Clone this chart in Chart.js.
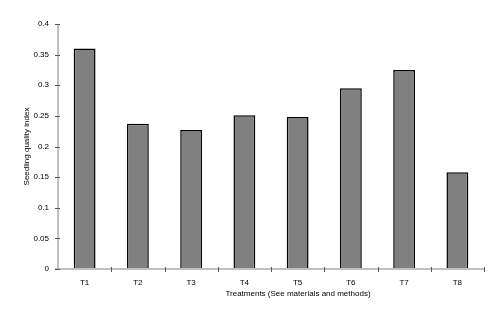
<!DOCTYPE html>
<html>
<head>
<meta charset="utf-8">
<script src="https://cdn.jsdelivr.net/npm/chart.js@4"></script>
<style>
  html, body { margin: 0; padding: 0; background: #fff; }
  canvas { display: block; }
</style>
</head>
<body>
<canvas id="chart" width="500" height="314"></canvas>
<script>
const treatments = ['T1', 'T2', 'T3', 'T4', 'T5', 'T6', 'T7', 'T8'];
const qualityIndex = [0.36, 0.237, 0.227, 0.251, 0.248, 0.295, 0.325, 0.158];
const yTicks = [0, 0.05, 0.1, 0.15, 0.2, 0.25, 0.3, 0.35, 0.4];
const xTitle = 'Treatments (See materials and methods)';
const yTitle = 'Seedling quality index';

const font = {family: '"Liberation Sans", Arial, sans-serif', size: 8};
const tickColor = '#555';
const axisColor = '#c0c0c0';

// axis lines, tick marks and the x title are drawn by hand: the ticks cross
// the axis and the x title sits right of the plot centre in the original
const extrasPlugin = {
  id: 'extras',
  afterDatasetsDraw(chart) {
    const {ctx, chartArea, scales} = chart;
    const x = scales.x;
    const y = scales.y;
    ctx.save();

    ctx.strokeStyle = axisColor;
    ctx.lineWidth = 2;
    ctx.beginPath();
    ctx.moveTo(chartArea.left, y.getPixelForValue(0.4));
    ctx.lineTo(chartArea.left, chartArea.bottom);
    ctx.moveTo(chartArea.left - 3, chartArea.bottom);
    ctx.lineTo(chartArea.right, chartArea.bottom);
    ctx.stroke();

    ctx.strokeStyle = tickColor;
    ctx.lineWidth = 1;
    ctx.beginPath();
    y.ticks.forEach((t, i) => {
      const py = Math.round(y.getPixelForTick(i)) + 0.5;
      ctx.moveTo(chartArea.left - 3, py);
      ctx.lineTo(chartArea.left + 2, py);
    });
    const half = (x.getPixelForValue(1) - x.getPixelForValue(0)) / 2;
    for (let i = 0; i < treatments.length; i++) {
      const px = Math.round(x.getPixelForValue(i) + half) + 0.5;
      ctx.moveTo(px, chartArea.bottom + 3);
      ctx.lineTo(px, chartArea.bottom - 2);
    }
    ctx.stroke();

    ctx.font = `${font.size}px ${font.family}`;
    ctx.fillStyle = '#000';
    ctx.textAlign = 'center';
    ctx.textBaseline = 'middle';
    ctx.fillText(xTitle, (chartArea.left + chartArea.right) / 2 + 27, 294);
    ctx.restore();
  }
};

new Chart(document.getElementById('chart'), {
  type: 'bar',
  data: {
    labels: treatments,
    datasets: [{
      data: qualityIndex,
      backgroundColor: '#808080',
      borderColor: '#000',
      borderWidth: 1.5,
      categoryPercentage: 1,
      barPercentage: 0.41,
    }]
  },
  options: {
    responsive: false,
    animation: false,
    layout: {padding: {top: 24, right: 16, left: 0, bottom: 0}},
    plugins: {legend: {display: false}, tooltip: {enabled: false}},
    scales: {
      x: {
        grid: {display: true, drawOnChartArea: false, tickLength: 3, color: 'rgba(0,0,0,0)'},
        border: {display: false},
        ticks: {color: '#000', font, padding: 6},
        afterFit(scale) { scale.height = 45; }
      },
      y: {
        min: 0,
        max: 0.4,
        afterBuildTicks(scale) { scale.ticks = yTicks.map(v => ({value: v})); },
        grid: {display: true, drawOnChartArea: false, tickLength: 3, color: 'rgba(0,0,0,0)'},
        border: {display: false},
        ticks: {color: '#000', font, padding: 6, callback: v => String(+v.toFixed(2))},
        title: {display: true, text: yTitle, color: '#000', font, padding: {top: 22, bottom: 0}},
        afterFit(scale) { scale.width = 58; }
      }
    }
  },
  plugins: [extrasPlugin]
});
</script>
</body>
</html>
